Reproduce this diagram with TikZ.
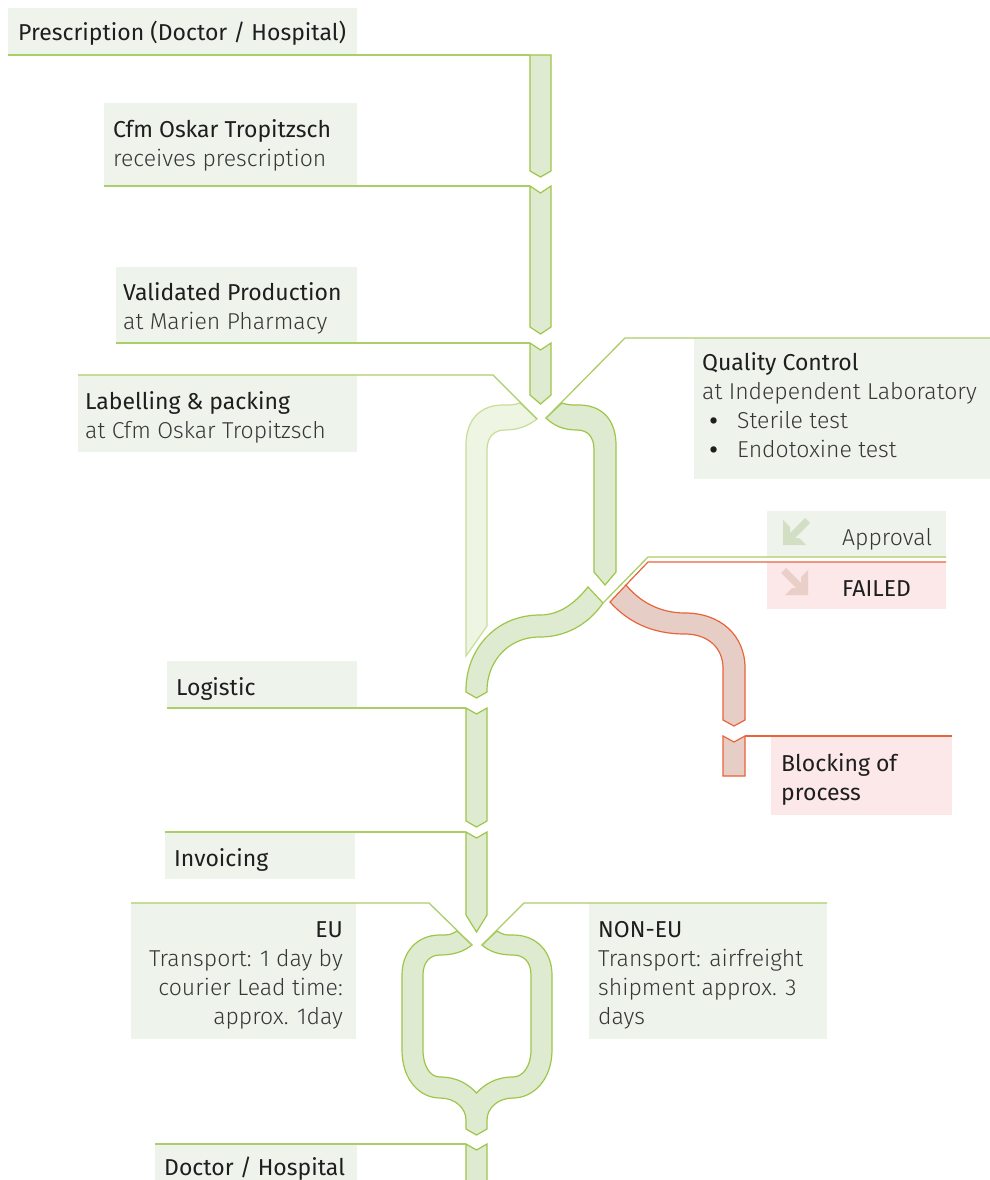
\documentclass[tikz,border=0pt]{standalone}
\usepackage{fontspec}
\setmainfont{Fira Sans}
\newfontfamily\lightf{Fira Sans Light}
\definecolor{boxg}{RGB}{238,244,236}
\definecolor{lineg}{RGB}{172,206,104}
\definecolor{arrline}{RGB}{158,198,72}
\definecolor{arrg}{RGB}{223,235,208}
\definecolor{lightfill}{RGB}{238,245,227}
\definecolor{lightline}{RGB}{198,222,152}
\definecolor{pinkbox}{RGB}{252,232,232}
\definecolor{redline}{RGB}{232,100,58}
\definecolor{redfill}{RGB}{230,206,198}
\definecolor{icong}{RGB}{211,223,196}
\definecolor{iconr}{RGB}{233,207,200}
\definecolor{titlec}{RGB}{30,30,30}
\definecolor{subc}{RGB}{55,55,55}
\tikzset{
  box/.style={fill=boxg},
  pbox/.style={fill=pinkbox},
  bline/.style={draw=lineg, line width=1.3pt},
  rline/.style={draw=redline, line width=1.2pt},
  arr/.style={fill=arrg, draw=arrline, line width=1.2pt, line join=miter},
  lightarr/.style={fill=lightfill, draw=lightline, line width=1.2pt, line join=miter},
  redarr/.style={fill=redfill, draw=redline, line width=1.2pt, line join=miter},
  ttl/.style={inner sep=0pt, text=titlec, font=\fontsize{23}{29}\selectfont},
  sub/.style={inner sep=0pt, text=subc, font=\lightf\fontsize{23}{29}\selectfont},
  bul/.style={inner sep=0pt, text=titlec, font=\fontsize{28}{29}\selectfont},
}
\begin{document}
\begin{tikzpicture}[x=1pt,y=-1pt]
\useasboundingbox (0,0) rectangle (990,1180);
\clip (0,0) rectangle (990,1180);
\fill[white] (0,0) rectangle (990,1180);
% boxes
\path[box] (8,8) rectangle (357,55);
\path[box] (104,103) rectangle (357,186);
\path[box] (116,267) rectangle (357,343);
\path[box] (78,375) rectangle (357,452);
\path[box] (694,338) rectangle (990,479);
\path[box] (767,511) rectangle (946,557);
\path[pbox] (767,562) rectangle (946,609);
\path[box] (167,661) rectangle (357,708);
\path[pbox] (771,736) rectangle (952,815);
\path[box] (165,832) rectangle (355,879);
\path[box] (131,903) rectangle (356,1039);
\path[box] (589,903) rectangle (827,1039);
\path[box] (155,1144) rectangle (357,1190);
% icons
\fill[icong] (783,545) -- (806,545) -- (799,538) -- (795,538) -- (810,523) -- (805,518) -- (790,533) -- (790,527) -- (783,520) -- cycle;
\fill[iconr] (808,595) -- (785,595) -- (792,588) -- (796,588) -- (781,573) -- (786,568) -- (801,583) -- (801,577) -- (808,570) -- cycle;
% straight arrows
\path[arr] (530,55) -- (551,55) -- (551,171) -- (540.5,177) -- (530,171) -- cycle;
\path[arr] (530,186) -- (540.5,193) -- (551,186) -- (551,327) -- (540.5,334) -- (530,327) -- cycle;
\path[arr] (530,343) -- (540.5,350) -- (551,343) -- (551,395) -- (540.5,404) -- (530,395) -- cycle;
% light branch (labelling)
\path[lightarr] (520,403) .. controls (513,405) .. (503,405)
  .. controls (480,405) and (466,420) .. (466,445) -- (466,656) -- (487,626) -- (487,450)
  .. controls (487,437) and (494,430) .. (505,430)
  .. controls (518,430) and (528,426) .. (537,419) -- cycle;
% QC branch
\path[arr] (562,403) .. controls (569,405) .. (579,405)
  .. controls (602,405) and (616,420) .. (616,445) -- (616,572) -- (605,585) -- (594,572) -- (594,450)
  .. controls (594,437) and (588,430) .. (577,430)
  .. controls (564,430) and (554,426) .. (546,418) -- cycle;
% approved branch
\path[arr] (588,587) .. controls (575,603) and (560,615) .. (540,615)
  .. controls (495,615) and (466,650) .. (466,690) -- (466,692) -- (476.5,698) -- (487,692) -- (487,690)
  .. controls (487,665) and (505,637) .. (540,637)
  .. controls (565,637) and (588,625) .. (603,603) -- cycle;
% failed branch
\path[redarr] (626,585) .. controls (640,602) and (660,613) .. (685,613)
  .. controls (720,613) and (745,635) .. (745,668) -- (745,720) -- (734,726) -- (723,720) -- (723,668)
  .. controls (723,648) and (708,634) .. (685,634)
  .. controls (652,634) and (628,622) .. (610,602) -- cycle;
\path[redarr] (723,736) -- (734,742) -- (745,736) -- (745,776) -- (723,776) -- cycle;
% logistic / invoicing arrows
\path[arr] (466,708) -- (476.5,714) -- (487,708) -- (487,821) -- (476.5,827) -- (466,821) -- cycle;
\path[arr] (466,832) -- (476.5,838) -- (487,832) -- (487,915) -- (476.5,932) -- (466,915) -- cycle;
% EU / NON-EU loop
\path[arr] (457,931) .. controls (450,935) .. (440,935)
  .. controls (417,935) and (402,952) .. (402,975) -- (402,1050)
  .. controls (402,1080) and (420,1098) .. (440,1098)
  .. controls (455,1098) and (466,1108) .. (466,1120) -- (466,1129) -- (476.5,1135) -- (487,1129) -- (487,1120)
  .. controls (487,1108) and (498,1098) .. (513,1098)
  .. controls (533,1098) and (552,1080) .. (552,1050) -- (552,975)
  .. controls (552,952) and (537,935) .. (513,935)
  .. controls (504,935) .. (497,931) -- (482,945)
  .. controls (490,952) and (500,955) .. (513,955)
  .. controls (524,955) and (531,962) .. (531,975) -- (531,1050)
  .. controls (531,1066) and (523,1077) .. (513,1077)
  .. controls (495,1077) and (484,1085) .. (476.5,1093)
  .. controls (469,1085) and (458,1077) .. (440,1077)
  .. controls (430,1077) and (423,1066) .. (423,1050) -- (423,975)
  .. controls (423,962) and (430,955) .. (440,955)
  .. controls (453,955) and (463,952) .. (472,945) -- cycle;
\path[arr] (466,1144) -- (476.5,1150) -- (487,1144) -- (487,1190) -- (466,1190) -- cycle;
% box lines
\draw[bline] (8,55) -- (530,55);
\draw[bline] (104,186) -- (530,186);
\draw[bline] (116,343) -- (530,343);
\draw[bline] (78,375) -- (493,375) -- (537,419);
\draw[bline] (990,338) -- (625,338) -- (546,418);
\draw[bline] (946,557) -- (648,557) -- (603,603);
\draw[rline] (946,562) -- (648,562) -- (626,585);
\draw[bline] (167,708) -- (466,708);
\draw[rline] (745,736) -- (952,736);
\draw[bline] (165,832) -- (466,832);
\draw[bline] (131,903) -- (429,903) -- (472,945);
\draw[bline] (827,903) -- (524,903) -- (482,945);
\draw[bline] (155,1144) -- (466,1144);
% texts
\node[ttl, anchor=base west] (t1) at (18,41) {Prescription (Doctor / Hospital)};
\node[ttl, anchor=base west] (t2a) at (113,137) {Cfm Oskar Tropitzsch};
\node[sub, anchor=base west] (t2b) at (113,166) {receives prescription};
\node[ttl, anchor=base west] (t3a) at (123,300) {Validated Production};
\node[sub, anchor=base west] (t3b) at (123,329) {at Marien Pharmacy};
\node[ttl, anchor=base west] (t4a) at (85,409) {Labelling \& packing};
\node[sub, anchor=base west] (t4b) at (85,438) {at Cfm Oskar Tropitzsch};
\node[ttl, anchor=base west] (q1) at (702,370) {Quality Control};
\node[sub, anchor=base west] (q2) at (702,399) {at Independent Laboratory};
\node[bul, anchor=base west] (qb1) at (709,430) {•};
\node[sub, anchor=base west] (q3) at (737,428) {Sterile test};
\node[bul, anchor=base west] (qb2) at (709,459) {•};
\node[sub, anchor=base west] (q4) at (737,457) {Endotoxine test};
\node[sub, anchor=base west] (ap) at (842,545) {Approval};
\node[ttl, anchor=base west] (fa) at (842,596) {FAILED};
\node[ttl, anchor=base west] (lg) at (176,695) {Logistic};
\node[ttl, anchor=base west] (bl1) at (781,771) {Blocking of};
\node[ttl, anchor=base west] (bl2) at (781,800) {process};
\node[ttl, anchor=base west] (inv) at (174,866) {Invoicing};
\node[ttl, anchor=base east] (eu1) at (343,937) {EU};
\node[sub, anchor=base east] (eu2) at (343,966) {Transport: 1 day by};
\node[sub, anchor=base east] (eu3) at (343,995) {courier Lead time:};
\node[sub, anchor=base east] (eu4) at (343,1024) {approx. 1day};
\node[ttl, anchor=base west] (ne1) at (598,937) {NON-EU};
\node[sub, anchor=base west] (ne2) at (598,966) {Transport: airfreight};
\node[sub, anchor=base west] (ne3) at (598,995) {shipment approx. 3};
\node[sub, anchor=base west] (ne4) at (598,1024) {days};
\node[ttl, anchor=base west] (dr) at (164,1175) {Doctor / Hospital};
\end{tikzpicture}
\end{document}
